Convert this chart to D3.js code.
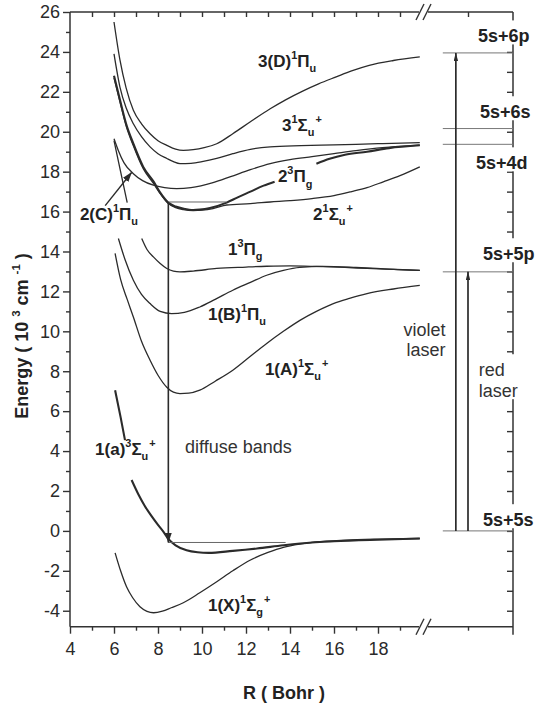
<!DOCTYPE html>
<html>
<head>
<meta charset="utf-8">
<script src="https://cdn.jsdelivr.net/npm/d3@7"></script>
<style>
  body { margin: 0; background: #fff; }
  svg { font-family: 'Liberation Sans', Arial, sans-serif; }
  text { white-space: pre; }
</style>
</head>
<body>
<svg id="chart" width="537" height="708"></svg>
<script>
// potential curves, [R (bohr), E (10^3 cm^-1)]; null = gap left for a label
const stateX1Sg = [[6.05, -1.1], [6.3, -2.0], [6.57, -2.8], [6.85, -3.35], [7.18, -3.8], [7.5, -4.03],
  [7.8, -4.1], [8.2, -4.02], [8.6, -3.85], [9.15, -3.6], [9.9, -3.1], [10.67, -2.55], [11.4, -2.0],
  [12.18, -1.47], [13, -1.08], [13.7, -0.82], [14.5, -0.65], [15.2, -0.55], [16.5, -0.46], [18, -0.41],
  [19.9, -0.38]]
const statea3Su = [[6.05, 7.05], [6.3, 5.7], [6.5, 4.55], null, [6.8, 2.55], [7.1, 1.85], [7.4, 1.25],
  [7.7, 0.75], [8.0, 0.3], [8.25, -0.05], [8.47, -0.4], [8.8, -0.72], [9.3, -0.97], [9.8, -1.07],
  [10.3, -1.1], [11.4, -1.0], [12.5, -0.88], [13.7, -0.72], [15, -0.58], [16, -0.52], [18, -0.44],
  [19.9, -0.38]]
const stateA1Su = [[6.05, 13.9], [6.3, 12.6], [6.6, 11.6], [6.88, 10.72], [7.25, 9.5], [7.64, 8.55],
  [8.0, 7.8], [8.4, 7.2], [8.7, 6.95], [9.0, 6.88], [9.4, 6.9], [9.9, 7.05], [10.6, 7.5], [11.4, 8.05],
  [12.2, 8.75], [12.94, 9.39], [13.7, 10.0], [14.45, 10.55], [15.2, 11.0], [15.97, 11.39], [16.7, 11.65],
  [17.5, 11.89], [18.7, 12.12], [19.9, 12.3]]
const stateB1Pu = [[6.2, 14.65], [6.5, 13.6], [6.88, 12.56], [7.25, 11.85], [7.64, 11.39], [8.1, 11.0],
  [8.62, 10.89], [9.2, 10.95], [9.9, 11.22], [10.6, 11.6], [11.4, 12.06], [12.2, 12.45], [12.94, 12.81],
  [13.7, 13.05], [14.45, 13.2], [15.5, 13.25], [17, 13.2], [18.5, 13.12], [19.9, 13.05]]
const state13Pg = [[6.0, 19.55], [6.3, 18.0], [6.6, 16.45], null, [7.26, 14.65], [7.5, 14.1], [7.79, 13.73],
  [8.1, 13.4], [8.4, 13.15], [8.7, 13.02], [9.0, 12.98], [9.6, 13.02], [10.67, 13.15], [12, 13.22],
  [12.94, 13.26], [14, 13.28], [15.2, 13.25], [16.5, 13.2], [17.5, 13.15], [18.7, 13.1], [19.9, 13.05]]
const stateC1Pu = [[6.0, 19.65], [6.2, 19.05], [6.45, 18.45], [6.88, 17.9], [7.3, 17.55], [7.79, 17.32],
  [8.3, 17.2], [8.85, 17.15], [9.5, 17.2], [10.5, 17.45], [11.3, 17.75], [12.2, 18.1], [13.1, 18.4],
  [14, 18.6], [15, 18.75], [16, 18.9], [17, 19.05], [18.2, 19.2], [19.9, 19.33]]
const state23Pg = [[6.0, 22.8], [6.27, 21.6], [6.55, 20.4], [6.88, 19.4], [7.33, 18.24], [7.8, 17.5],
  [8.1, 16.95], [8.47, 16.45], [8.8, 16.25], [9.15, 16.15], [9.6, 16.08], [9.9, 16.1], [10.36, 16.18],
  [11.12, 16.45], [11.6, 16.7], [12.2, 17.0], [12.8, 17.3], [13.3, 17.5], null, [15.2, 18.4],
  [15.8, 18.65], [16.5, 18.85], [17.5, 19.0], [18.5, 19.18], [19.9, 19.32]]
const state21Su = [[6.0, 22.7], [6.27, 21.5], [6.55, 20.3], [6.88, 19.3], [7.33, 18.15], [7.8, 17.4],
  [8.1, 16.9], [8.47, 16.4], [8.8, 16.2], [9.15, 16.1], [9.6, 16.05], [10.0, 16.07], [10.5, 16.15],
  [11.12, 16.33], [12.2, 16.4], [13.1, 16.48], [14, 16.55], [15, 16.65], [16, 16.8], [16.8, 17.0],
  [17.5, 17.2], [18.24, 17.49], [19, 17.8], [19.9, 18.24]]
const state31Su = [[6.0, 23.9], [6.27, 22.24], [6.55, 21.2], [6.88, 20.4], [7.25, 19.75], [7.64, 19.24],
  [8.0, 18.9], [8.4, 18.66], [8.7, 18.5], [9.0, 18.4], [9.5, 18.42], [10.0, 18.5], [10.67, 18.66],
  [11.4, 18.9], [12.2, 19.12], [13.1, 19.24], [14.5, 19.3], [16, 19.34], [18, 19.4], [19.9, 19.45]]
const stateD1Pu = [[6.0, 25.5], [6.27, 23.6], [6.55, 22.2], [6.88, 21.08], [7.25, 20.4], [7.64, 19.9],
  [8.0, 19.55], [8.4, 19.32], [8.8, 19.13], [9.15, 19.07], [9.6, 19.1], [10.1, 19.2], [10.67, 19.4],
  [11.4, 19.9], [12.2, 20.5], [13.1, 21.15], [13.8, 21.6], [14.6, 22.05], [15.3, 22.4], [16.1, 22.75],
  [16.8, 23.05], [17.6, 23.33], [18.7, 23.57], [19.9, 23.75]]

// curve labels: [text, 0 normal | 1 superscript | -1 subscript]
const labelD1Pu = [['3(D)', 0], ['1', 1], ['Π', 0], ['u', -1]]
const label31Su = [['3', 0], ['1', 1], ['Σ', 0], ['u', -1], ['+', 1]]
const label23Pg = [['2', 0], ['3', 1], ['Π', 0], ['g', -1]]
const label21Su = [['2', 0], ['1', 1], ['Σ', 0], ['u', -1], ['+', 1]]
const labelC1Pu = [['2(C)', 0], ['1', 1], ['Π', 0], ['u', -1]]
const label13Pg = [['1', 0], ['3', 1], ['Π', 0], ['g', -1]]
const labelB1Pu = [['1(B)', 0], ['1', 1], ['Π', 0], ['u', -1]]
const labelA1Su = [['1(A)', 0], ['1', 1], ['Σ', 0], ['u', -1], ['+', 1]]
const labela3Su = [['1(a)', 0], ['3', 1], ['Σ', 0], ['u', -1], ['+', 1]]
const labelX1Sg = [['1(X)', 0], ['1', 1], ['Σ', 0], ['g', -1], ['+', 1]]

// atomic asymptotes
const levelNames = ['5s+6p', '5s+6s', '5s+4d', '5s+5p', '5s+5s']
const levelEnergies = [23.95, 20.16, 19.37, 12.98, 0]

// diffuse band transition
const diffuseR = 8.47
const diffuseTop = 16.48
const diffuseBottom = -0.58
const diffuseTopEnd = 11.12
const diffuseBottomEnd = 13.8

const energyTicks = [-4, -2, 0, 2, 4, 6, 8, 10, 12, 14, 16, 18, 20, 22, 24, 26]
const energyMinor = [-3, -1, 1, 3, 5, 7, 9, 11, 13, 15, 17, 19, 21, 23, 25]
const rTicks = [4, 6, 8, 10, 12, 14, 16, 18]
const rMinor = [5, 7, 9, 11, 13, 15, 17, 19]
const rightTicks = [-4, -3, -2, -1, 0, 1, 2, 3, 4, 5, 6, 7, 8, 9, 10, 11, 12, 13, 14, 15, 16, 17,
  18, 19, 20, 21, 22, 23, 24, 25]

//-----------------------------------------------------------------------------

const ink = '#2b2b2b'
const svg = d3.select('#chart')

const x = d3.scaleLinear().domain([4, 20]).range([70, 422])
const y = d3.scaleLinear().domain([-4.8, 26]).range([626.7, 12])
// the section after the axis break (R = infinity)
const xr = d3.scaleLinear().domain([0, 2]).range([423, 513])

const defs = svg.append('defs')
function arrowMarker (id, len, half) {
  defs.append('marker')
    .attr('id', id)
    .attr('markerUnits', 'userSpaceOnUse')
    .attr('viewBox', `0 ${-half} ${len} ${2 * half}`)
    .attr('refX', len - 0.5).attr('refY', 0)
    .attr('markerWidth', len).attr('markerHeight', 2 * half)
    .attr('orient', 'auto')
    .append('path')
    .attr('d', `M0,${-half}L${len},0L0,${half}Z`)
    .attr('fill', ink)
}
arrowMarker('headThin', 9, 2.3)
arrowMarker('headWide', 10, 3.4)

function richText (sel, parts, size) {
  let shift = 0
  parts.forEach(([s, pos]) => {
    const target = pos === 1 ? -0.47 * size : pos === -1 ? 0.3 * size : 0
    sel.append('tspan')
      .attr('dy', target - shift)
      .attr('dx', pos === 1 && shift > 0 ? 1 : 0)
      .attr('font-size', pos ? size * 0.64 : size)
      .text(s)
    shift = target
  })
  return sel
}

// ---- axes
const axisG = svg.append('g').attr('color', '#333')

function styleAxis (g) {
  g.select('.domain').remove()
  g.selectAll('line').attr('stroke-width', 1.4)
  g.selectAll('text').attr('font-size', 18).attr('fill', '#2a2a2a')
}

axisG.append('g').attr('transform', 'translate(0,626.7)')
  .call(d3.axisBottom(x).tickValues(rTicks).tickSize(7).tickPadding(9).tickFormat(d => String(d)))
  .call(styleAxis)
axisG.append('g').attr('transform', 'translate(0,626.7)')
  .call(d3.axisBottom(x).tickValues(rMinor).tickSize(4).tickFormat(''))
  .call(styleAxis)
axisG.append('g').attr('transform', 'translate(0,626.7)')
  .call(d3.axisBottom(xr).tickValues([1]).tickSize(4).tickFormat(''))
  .call(styleAxis)
axisG.append('g').attr('transform', 'translate(0,12)')
  .call(d3.axisBottom(x).tickValues(rTicks.concat(rMinor).filter(d => d > 4)).tickSize(5).tickFormat(''))
  .call(styleAxis)
axisG.append('g').attr('transform', 'translate(0,12)')
  .call(d3.axisBottom(xr).tickValues([1]).tickSize(5).tickFormat(''))
  .call(styleAxis)
axisG.append('g').attr('transform', 'translate(70,0)')
  .call(d3.axisLeft(y).tickValues(energyTicks).tickSize(7).tickPadding(3).tickFormat(d => String(d)))
  .call(styleAxis)
axisG.append('g').attr('transform', 'translate(70,0)')
  .call(d3.axisLeft(y).tickValues(energyMinor).tickSize(4).tickFormat(''))
  .call(styleAxis)
axisG.append('g').attr('transform', `translate(${xr(2)},0)`)
  .call(d3.axisRight(y).tickValues(rightTicks).tickSize(-6).tickFormat(''))
  .call(styleAxis)

// frame with the axis break
const frame = [
  [[x(4), y(26)], [x(4), y(-4.8)]],
  [[x(4), y(26)], [419, y(26)]], [[428, y(26)], [xr(2), y(26)]],
  [[x(4), y(-4.8)], [419, y(-4.8)]], [[428, y(-4.8)], [xr(2), y(-4.8)]],
  [[xr(2), y(26)], [xr(2), y(-4.8) + 8]]
]
axisG.selectAll('path.frame').data(frame).enter().append('path')
  .attr('class', 'frame')
  .attr('d', d => d3.line()(d))
  .attr('stroke', '#333').attr('stroke-width', 1.5).attr('fill', 'none')
const slashes = [0, 7]
;[y(26), y(-4.8)].forEach(yy => {
  slashes.forEach(off => {
    axisG.append('line')
      .attr('x1', 416 + off).attr('y1', yy + 8)
      .attr('x2', 424 + off).attr('y2', yy - 8)
      .attr('stroke', '#333').attr('stroke-width', 1.4)
  })
})

// axis titles
svg.append('text')
  .attr('x', 284).attr('y', 699)
  .attr('text-anchor', 'middle')
  .attr('font-weight', 'bold').attr('font-size', 18).attr('fill', '#222')
  .text('R ( Bohr )')
richText(svg.append('text')
  .attr('transform', 'translate(28,336) rotate(-90)')
  .attr('text-anchor', 'middle')
  .attr('font-weight', 'bold').attr('fill', '#222'),
[['Energy ( 10 ', 0], ['3', 1], [' cm ', 0], ['-1', 1], [' )', 0]], 18)

// ---- potential curves
const line = d3.line()
  .defined(d => d !== null)
  .x(d => x(d[0])).y(d => y(d[1]))
  .curve(d3.curveMonotoneX)

const curves = [
  { pts: stateX1Sg, w: 1.3 },
  { pts: statea3Su, w: 2.1 },
  { pts: stateA1Su, w: 1.3 },
  { pts: stateB1Pu, w: 1.3 },
  { pts: state13Pg, w: 1.3 },
  { pts: stateC1Pu, w: 1.3 },
  { pts: state21Su, w: 1.3 },
  { pts: state23Pg, w: 2.1 },
  { pts: state31Su, w: 1.3 },
  { pts: stateD1Pu, w: 1.3 }
]
svg.append('g').selectAll('path').data(curves).enter().append('path')
  .attr('d', d => line(d.pts))
  .attr('fill', 'none')
  .attr('stroke', ink)
  .attr('stroke-width', d => d.w)
  .attr('stroke-linejoin', 'round')

// curve labels, placed at [R, E] of the text baseline start
const curveLabels = [
  { parts: labelD1Pu, at: [12.55, 23.23] },
  { parts: label31Su, at: [13.64, 20.03] },
  { parts: label23Pg, at: [13.45, 17.46] },
  { parts: label21Su, at: [15.05, 15.56] },
  { parts: labelC1Pu, at: [4.45, 15.57] },
  { parts: label13Pg, at: [11.18, 13.82] },
  { parts: labelB1Pu, at: [10.27, 10.55] },
  { parts: labelA1Su, at: [12.86, 7.81] },
  { parts: labela3Su, at: [5.14, 3.79] },
  { parts: labelX1Sg, at: [10.27, -4.02] }
]
const labelG = svg.append('g').attr('font-weight', 'bold').attr('fill', '#222')
curveLabels.forEach(d => {
  richText(labelG.append('text').attr('x', x(d.at[0])).attr('y', y(d.at[1])), d.parts, 17)
})

// arrow from the 2(C) label to its curve
svg.append('line')
  .attr('x1', x(5.6)).attr('y1', y(16.3))
  .attr('x2', x(6.8)).attr('y2', y(17.96))
  .attr('stroke', ink).attr('stroke-width', 1.4)
  .attr('marker-end', 'url(#headWide)')

// diffuse bands transition
const thin = svg.append('g').attr('stroke', '#666').attr('stroke-width', 1)
thin.append('line')
  .attr('x1', x(diffuseR)).attr('x2', x(diffuseTopEnd))
  .attr('y1', y(diffuseTop)).attr('y2', y(diffuseTop))
thin.append('line')
  .attr('x1', x(diffuseR)).attr('x2', x(diffuseBottomEnd))
  .attr('y1', y(diffuseBottom)).attr('y2', y(diffuseBottom))
svg.append('line')
  .attr('x1', x(diffuseR)).attr('x2', x(diffuseR))
  .attr('y1', y(diffuseTop)).attr('y2', y(diffuseBottom))
  .attr('stroke', ink).attr('stroke-width', 1.6)
  .attr('marker-end', 'url(#headWide)')
svg.append('text')
  .attr('x', x(9.23)).attr('y', y(3.89))
  .attr('font-size', 18).attr('fill', '#333')
  .text('diffuse bands')

// ---- right side: asymptotic levels and laser transitions
const levelLayout = [[478, -10.5], [480, -10.3], [476, 25], [483, -11.6], [483, -4.7]]
const rightG = svg.append('g')
const bgG = rightG.append('g')
const levelG = rightG.append('g')
const levelTextG = rightG.append('g').attr('font-weight', 'bold').attr('font-size', 18).attr('fill', '#222')

levelNames.forEach((name, i) => {
  const yy = y(levelEnergies[i])
  levelG.append('line')
    .attr('x1', xr(0.44)).attr('x2', xr(2))
    .attr('y1', yy).attr('y2', yy)
    .attr('stroke', '#777').attr('stroke-width', 1)
  levelTextG.append('text')
    .attr('x', levelLayout[i][0]).attr('y', yy + levelLayout[i][1])
    .text(name)
})

const laserG = svg.append('g').attr('font-size', 18).attr('fill', '#333')
laserG.append('text').attr('text-anchor', 'end')
  .attr('x', xr(0.5)).attr('y', y(9.79)).text('violet')
laserG.append('text').attr('text-anchor', 'end')
  .attr('x', xr(0.5)).attr('y', y(8.74)).text('laser')
const redG = laserG.append('g')
redG.append('text').attr('x', xr(1.24)).attr('y', y(7.75)).text('red')
redG.append('text').attr('x', xr(1.24)).attr('y', y(6.7)).text('laser')

// white patches to open the right axis where its labels sit
function patch (node) {
  const b = node.getBBox()
  bgG.append('rect')
    .attr('x', b.x - 2).attr('y', b.y - 6)
    .attr('width', b.width + 4).attr('height', b.height + 4)
    .attr('fill', '#fff')
}
levelTextG.selectAll('text').each(function () { patch(this) })
patch(redG.node())

const transitions = [
  { at: 0.73, to: levelEnergies[0] },
  { at: 1.0, to: levelEnergies[3] }
]
svg.append('g').selectAll('line').data(transitions).enter().append('line')
  .attr('x1', d => xr(d.at)).attr('x2', d => xr(d.at))
  .attr('y1', y(levelEnergies[4])).attr('y2', d => y(d.to))
  .attr('stroke', ink).attr('stroke-width', 1.7)
  .attr('marker-end', 'url(#headThin)')
</script>
</body>
</html>
